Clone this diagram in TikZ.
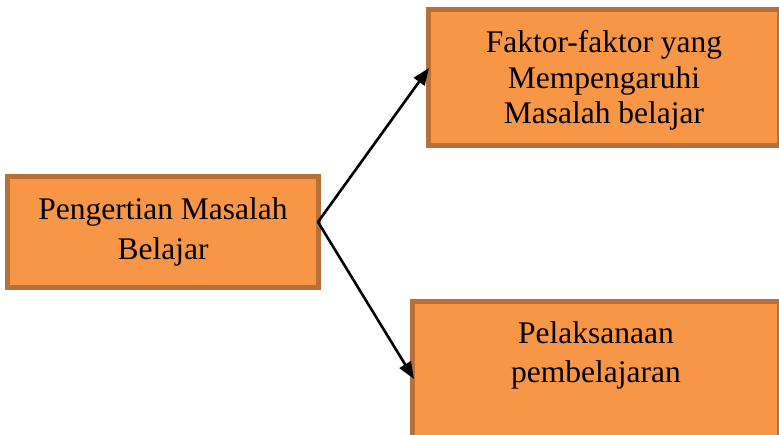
\documentclass[tikz,border=0pt]{standalone}
\usepackage{fontspec}
\setmainfont{Liberation Serif}
\usetikzlibrary{arrows.meta}
\definecolor{boxfill}{HTML}{F79646}
\definecolor{boxline}{HTML}{B67038}
\begin{document}
\begin{tikzpicture}[x=1pt,y=-1pt,
  box/.style={draw=boxline,fill=boxfill,line width=5pt,rectangle,inner sep=0pt,outer sep=0pt},
  txt/.style={align=center,inner sep=0pt,font=\fontsize{31.5}{40}\selectfont},
  arr/.style={line width=2.6pt,-{Triangle[length=17pt,width=13pt]}}]
\useasboundingbox (0,0) rectangle (779,435);
\clip (0,0) rectangle (779,435);
% boxes
\node[box,minimum width=311pt,minimum height=111pt] (left) at (163,232) {};
\node[box,minimum width=351pt,minimum height=136pt] (top) at (604,77.5) {};
\node[box,minimum width=367pt,minimum height=160pt] (bottom) at (596,381.5) {};
% texts
\node[txt] (lefttxt) at (163,231.8) {Pengertian Masalah\\Belajar};
\node[txt,font=\fontsize{31.5}{35.5}\selectfont] (toptxt) at (604,80.3) {Faktor-faktor yang\\Mempengaruhi\\Masalah belajar};
\node[txt,font=\fontsize{31.5}{39}\selectfont] (bottomtxt) at (596,355.3) {Pelaksanaan\\pembelajaran};
% connector points
\coordinate (start) at (318,222);
\coordinate (tiptop) at (429,68);
\coordinate (tipbot) at (414,379);
\draw[arr] (start) -- (tiptop);
\draw[arr] (start) -- (tipbot);
\end{tikzpicture}
\end{document}
